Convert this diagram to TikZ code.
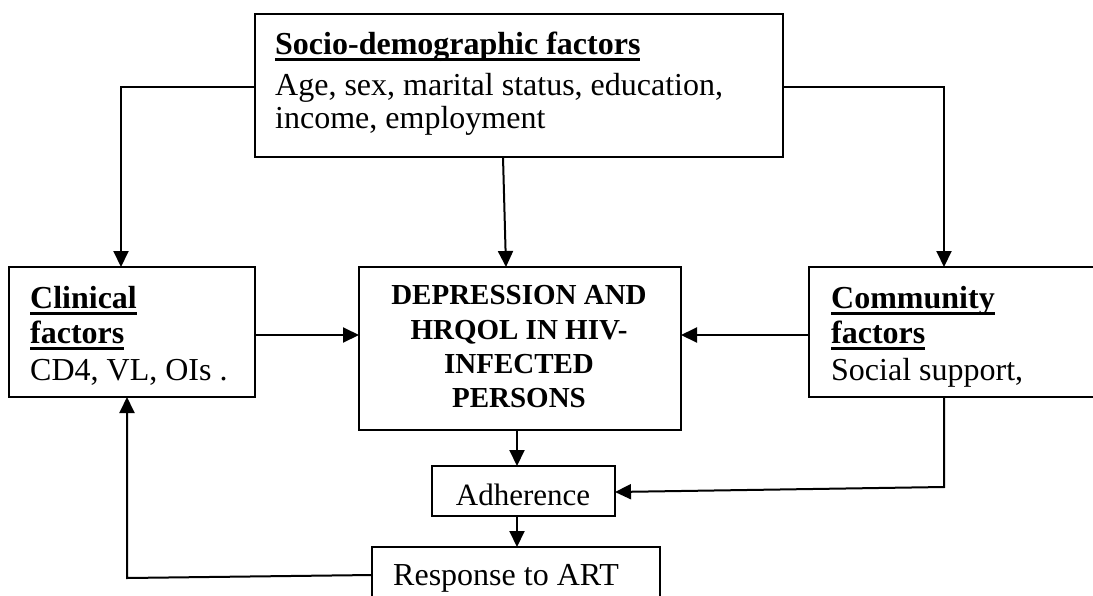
\documentclass[tikz,border=0pt]{standalone}
\usepackage{fontspec}
\setmainfont{Liberation Serif}
\usetikzlibrary{arrows.meta}
\newcommand\myul[1]{\setbox0\hbox{#1}\rlap{\rule[-7pt]{\wd0}{3.4pt}}\box0}
\tikzset{
 box/.style={draw, line width=1.9pt, inner sep=0pt, outer sep=0pt},
 txt/.style={anchor=base west, inner sep=0pt, font=\fontsize{32}{38}\selectfont},
 boldtxt/.style={anchor=base west, inner sep=0pt, font=\fontsize{32}{38}\selectfont\bfseries},
 ctxt/.style={anchor=base, inner sep=0pt, font=\fontsize{29}{34}\selectfont\bfseries},
 arr/.style={line width=2pt, -{Triangle[length=16pt,width=15pt]}}
}
\begin{document}
\begin{tikzpicture}[x=1pt,y=-1pt]
\clip (0,0) rectangle (1093,595);
\fill[white] (0,0) rectangle (1093,595);
% boxes
\node[box, anchor=north west, minimum width=528pt, minimum height=143pt] (top) at (255,14) {};
\node[box, anchor=north west, minimum width=246pt, minimum height=130pt] (clin) at (9,267) {};
\node[box, anchor=north west, minimum width=322pt, minimum height=163pt] (cen) at (359,267) {};
\node[box, anchor=north west, minimum width=310pt, minimum height=130pt] (com) at (809,267) {};
\node[box, anchor=north west, minimum width=183pt, minimum height=50pt] (adh) at (432,466) {};
\node[box, anchor=north west, minimum width=288pt, minimum height=70pt] (res) at (372,547) {};
% texts
\node[boldtxt] (topH) at (275,54) {\myul{Socio-demographic factors}};
\node[txt] (topA) at (275,95) {Age, sex, marital status, education,};
\node[txt] (topB) at (275,128) {income, employment};
\node[boldtxt] (clinH1) at (30,308) {\myul{Clinical}};
\node[boldtxt] (clinH2) at (30,343) {\myul{factors}};
\node[txt] (clinT) at (30,380) {CD4, VL, OIs .};
\node[boldtxt] (comH1) at (831,308) {\myul{Community}};
\node[boldtxt] (comH2) at (831,343) {\myul{factors}};
\node[txt] (comT) at (831,380) {Social support,};
\node[ctxt] (cen1) at (519,304) {DEPRESSION AND};
\node[ctxt] (cen2) at (519,339) {HRQOL IN HIV-};
\node[ctxt] (cen3) at (519,373) {INFECTED};
\node[ctxt] (cen4) at (519,407) {PERSONS};
\node[txt, anchor=base, font=\fontsize{31}{36}\selectfont] (adhT) at (523,505) {Adherence};
\node[txt] (resT) at (393,585) {Response to ART};
% connectors
\coordinate (bendL) at (127,578);
\draw[arr] ([yshift=-1.5pt]top.west) -| ([xshift=-11pt]clin.north);
\draw[arr] ([yshift=-1.5pt]top.east) -| ([xshift=135pt]com.north west);
\draw[arr] ([xshift=-16pt]top.south) -- ([xshift=-14pt]cen.north);
\draw[arr] ([yshift=-3pt]clin.east) -- ([yshift=-3pt]clin.east -| cen.west);
\draw[arr] ([yshift=-3pt]com.west) -- ([yshift=-3pt]com.west -| cen.east);
\draw[arr] ([xshift=-3pt]cen.south) -- ([xshift=-3pt]cen.south |- adh.north);
\draw[arr] ([xshift=-6.5pt]adh.south) -- ([xshift=-6.5pt]adh.south |- res.north);
\draw[arr] ([xshift=135pt]com.south west) -- ++(0,90) -- ([yshift=-1pt]adh.east);
\draw[arr] ([yshift=7pt]res.west) -- (bendL) -- (bendL |- clin.south);
\end{tikzpicture}
\end{document}
